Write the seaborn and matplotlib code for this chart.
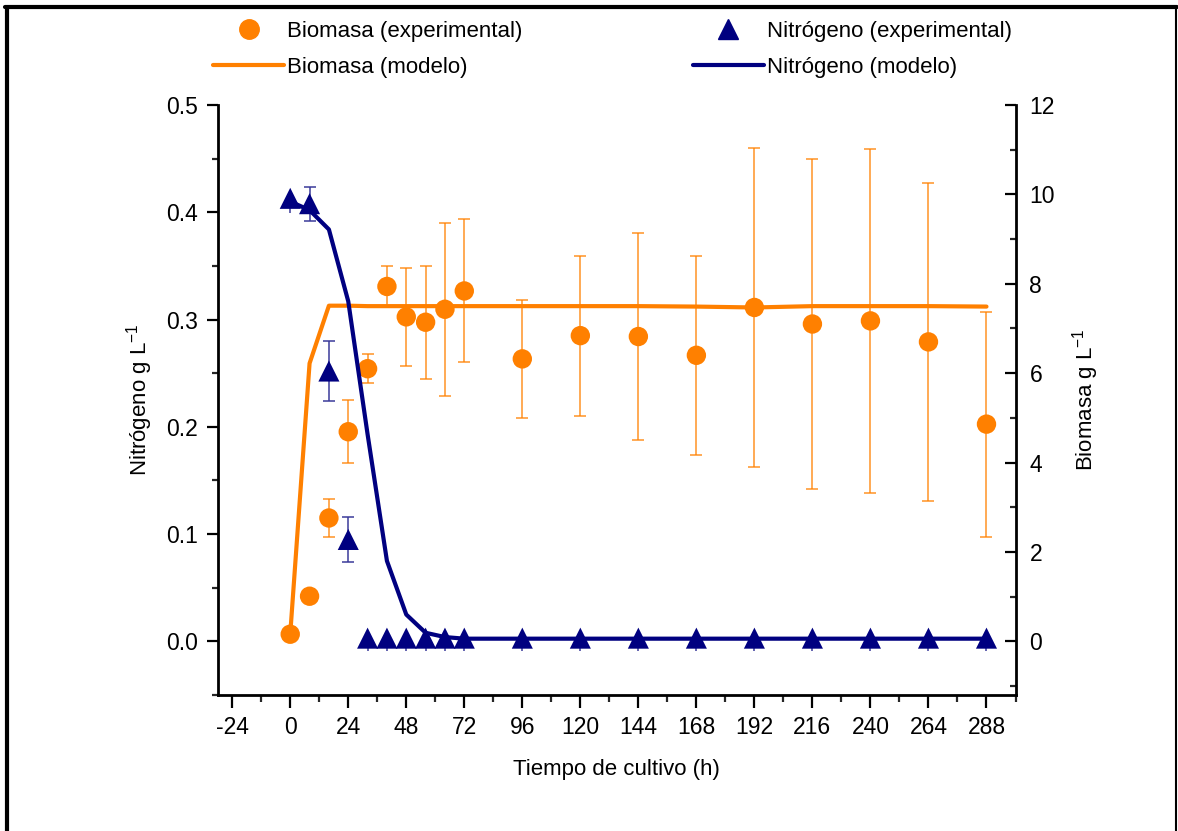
"""Biomasa y nitrógeno frente al tiempo de cultivo (experimental vs modelo)."""

import matplotlib.pyplot as plt
import numpy as np
import seaborn as sns
from matplotlib.lines import Line2D
from matplotlib.ticker import FormatStrFormatter, MultipleLocator


# tiempos (h)
t_exp = [0, 8, 16, 24, 32, 40, 48, 56, 64, 72, 96, 120, 144, 168, 192, 216, 240, 264, 288]
t_modelo = [0, 8, 16, 24, 32, 40, 48, 56, 64, 72, 96, 120, 144, 168, 192, 216, 240, 264, 288]

# biomasa (g/L), eje derecho
biomasa_exp = [0.16, 1.01, 2.76, 4.69, 6.10, 7.94, 7.26, 7.14, 7.43, 7.84,
               6.32, 6.84, 6.82, 6.40, 7.47, 7.10, 7.17, 6.70, 4.86]
biomasa_err = [0.0, 0.0, 0.42, 0.70, 0.33, 0.45, 1.10, 1.26, 1.94, 1.60,
               1.32, 1.79, 2.31, 2.22, 3.57, 3.70, 3.85, 3.55, 2.52]
biomasa_modelo = [0.16, 6.22, 7.51, 7.51, 7.50, 7.50, 7.50, 7.50, 7.50, 7.50,
                  7.50, 7.50, 7.50, 7.49, 7.47, 7.50, 7.50, 7.50, 7.49]

# nitrógeno (g/L), eje izquierdo
nitrogeno_exp = [0.413, 0.408, 0.252, 0.095, 0.003, 0.003, 0.003, 0.003, 0.003, 0.003,
                 0.003, 0.003, 0.003, 0.003, 0.003, 0.003, 0.003, 0.003, 0.003]
nitrogeno_err_inf = [0.014, 0.016, 0.028, 0.021, 0.012, 0.012, 0.012, 0.012, 0.012, 0.012,
                     0.012, 0.012, 0.012, 0.012, 0.012, 0.012, 0.012, 0.012, 0.012]
nitrogeno_err_sup = [0.0, 0.016, 0.028, 0.021, 0.0, 0.0, 0.0, 0.0, 0.0, 0.0,
                     0.0, 0.0, 0.0, 0.0, 0.0, 0.0, 0.0, 0.0, 0.0]
nitrogeno_modelo = [0.410, 0.402, 0.384, 0.317, 0.193, 0.075, 0.025, 0.008, 0.004, 0.0025,
                    0.0025, 0.0025, 0.0025, 0.0025, 0.0025, 0.0025, 0.0025, 0.0025, 0.0025]

x_ticks = [-24, 0, 24, 48, 72, 96, 120, 144, 168, 192, 216, 240, 264, 288]

ORANGE = "#ff8000"
NAVY = "#000080"
FONT = ["Liberation Sans", "DejaVu Sans"]


sns.set_theme(style="ticks")
plt.rcParams["font.family"] = FONT
plt.rcParams["axes.unicode_minus"] = False
plt.rcParams["mathtext.default"] = "regular"
plt.rcParams["text.color"] = "black"
plt.rcParams["axes.labelcolor"] = "black"

fig = plt.figure(figsize=(11.78, 8.31), dpi=100)
ax = fig.add_axes([217.7 / 1178, 1 - 695 / 831, (1015.5 - 217.7) / 1178, (695 - 105) / 831])
ax2 = ax.twinx()
ax.set_zorder(ax2.get_zorder() + 1)
ax.patch.set_visible(False)

# biomasa en el eje derecho
sns.lineplot(x=t_modelo, y=biomasa_modelo, ax=ax2, color=ORANGE, linewidth=3.0, legend=False)
ax2.errorbar(t_exp, biomasa_exp, yerr=biomasa_err, fmt="none", ecolor=ORANGE, alpha=0.85,
             elinewidth=1.1, capsize=4.3, capthick=1.1, zorder=2)
sns.scatterplot(x=t_exp, y=biomasa_exp, ax=ax2, color=ORANGE, s=195, marker="o",
                edgecolor="none", zorder=3, legend=False)

# nitrógeno en el eje izquierdo
sns.lineplot(x=t_modelo, y=nitrogeno_modelo, ax=ax, color=NAVY, linewidth=3.0, legend=False)
err_inf = np.array(nitrogeno_err_inf)
err_sup = np.array(nitrogeno_err_sup)
con_tapa = err_sup > 0
t_arr = np.array(t_exp)
n_arr = np.array(nitrogeno_exp)
ax.errorbar(t_arr[con_tapa], n_arr[con_tapa], yerr=[err_inf[con_tapa], err_sup[con_tapa]],
            fmt="none", ecolor="#3a3a9a", elinewidth=1.1, capsize=4.3, capthick=1.1, zorder=2)
ax.errorbar(t_arr[~con_tapa], n_arr[~con_tapa], yerr=[err_inf[~con_tapa], err_sup[~con_tapa]],
            fmt="none", ecolor="#3a3a9a", elinewidth=1.1, capsize=0, zorder=2)
sns.scatterplot(x=t_exp, y=nitrogeno_exp, ax=ax, color=NAVY, s=230, marker="^",
                edgecolor="none", zorder=4, legend=False)

# ejes
ax.set_xlim(-30, 300)
ax.set_ylim(-0.05, 0.5)
ax2.set_ylim(-1.2, 12)
ax.set_xticks(x_ticks)
ax.xaxis.set_minor_locator(MultipleLocator(12))
ax.yaxis.set_major_locator(MultipleLocator(0.1))
ax.yaxis.set_minor_locator(MultipleLocator(0.05))
ax.yaxis.set_major_formatter(FormatStrFormatter("%.1f"))
ax2.yaxis.set_major_locator(MultipleLocator(2))
ax2.yaxis.set_minor_locator(MultipleLocator(1))
ax2.set_ylim(-1.2, 12)

for spine in ["top", "right"]:
    ax.spines[spine].set_visible(False)
for spine in ["top", "left", "bottom"]:
    ax2.spines[spine].set_visible(False)
for a in (ax, ax2):
    for spine in a.spines.values():
        spine.set_color("black")
        spine.set_linewidth(2.0)

ax.tick_params(axis="x", which="major", direction="out", length=9.4, width=1.6, pad=6,
               labelsize=16.5, colors="black")
ax.tick_params(axis="x", which="minor", direction="out", length=5, width=1.6)
ax.tick_params(axis="y", which="major", direction="out", length=8, width=1.6, pad=6,
               labelsize=16.5, colors="black")
ax.tick_params(axis="y", which="minor", direction="out", length=4.3, width=1.6)
ax2.tick_params(axis="y", which="major", direction="in", length=8, width=1.6, pad=10,
                labelsize=16.5, colors="black")
ax2.tick_params(axis="y", which="minor", direction="in", length=4, width=1.6)

ax.set_xlabel("Tiempo de cultivo (h)", fontsize=16, labelpad=14)
ax.set_ylabel("Nitrógeno g L$^{-1}$", fontsize=16, labelpad=8)
ax2.set_ylabel("Biomasa g L$^{-1}$", fontsize=16, labelpad=11)

# leyenda
handles = [
    Line2D([], [], color=ORANGE, marker="o", markersize=14, linestyle="none"),
    Line2D([], [], color=ORANGE, linewidth=3.0),
    Line2D([], [], color=NAVY, marker="^", markersize=15, linestyle="none"),
    Line2D([], [], color=NAVY, linewidth=3.0),
]
labels = ["Biomasa (experimental)", "Biomasa (modelo)",
          "Nitrógeno (experimental)", "Nitrógeno (modelo)"]
fig.legend(handles, labels, ncol=2, loc="upper left",
           bbox_to_anchor=(213 / 1178, 1 - 21 / 831), frameon=False,
           prop={"size": 16}, handlelength=3.2, handletextpad=0.15,
           columnspacing=7.65, labelspacing=0.68, borderpad=0, borderaxespad=0)

# marco de la figura
fig.add_artist(Line2D([5 / 1178, 1177 / 1178], [1 - 7 / 831, 1 - 7 / 831],
                      transform=fig.transFigure, color="black", linewidth=3.0))
fig.add_artist(Line2D([7 / 1178, 7 / 1178], [0, 1 - 7 / 831],
                      transform=fig.transFigure, color="black", linewidth=3.0))
fig.add_artist(Line2D([1176 / 1178, 1176 / 1178], [0, 1 - 7 / 831],
                      transform=fig.transFigure, color="black", linewidth=1.5))

fig.savefig("out.png", dpi=100, facecolor="white")
